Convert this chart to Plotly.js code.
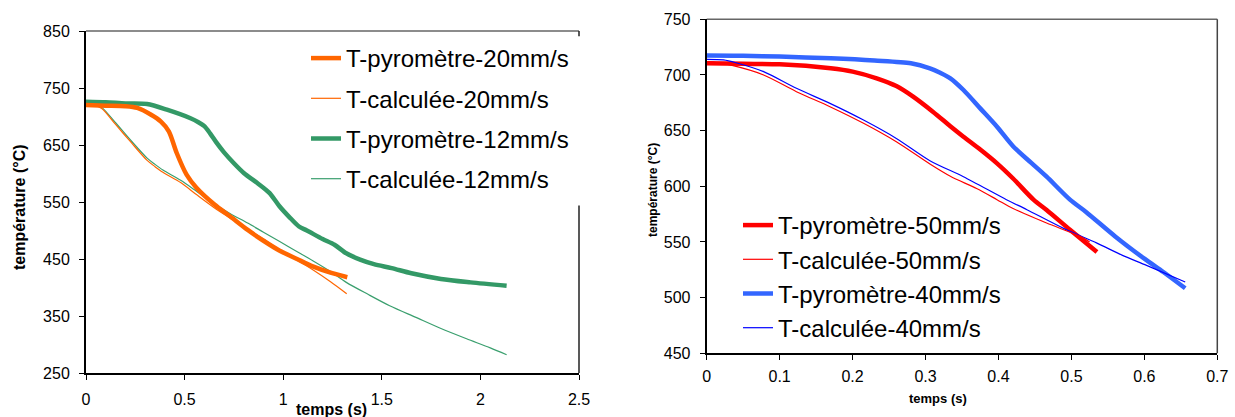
<!DOCTYPE html>
<html>
<head>
<meta charset="utf-8">
<script src="https://cdn.plot.ly/plotly-3.0.1.min.js"></script>
<style>html,body{margin:0;padding:0;background:#fff;}#chart{width:1235px;height:417px;}</style>
</head>
<body>
<div id="chart"></div>
<script>
// ---------- Left chart data ----------
const namePyro20 = "T-pyromètre-20mm/s";
const nameCalc20 = "T-calculée-20mm/s";
const namePyro12 = "T-pyromètre-12mm/s";
const nameCalc12 = "T-calculée-12mm/s";

const tPyro20 = [0, 0.1, 0.2, 0.26, 0.33, 0.38, 0.42, 0.46, 0.51, 0.56, 0.65, 0.73, 0.82, 0.9, 0.98, 1.07, 1.15, 1.24, 1.325];
const TPyro20 = [720, 719, 718, 715, 703, 691, 674, 636, 598, 575, 546, 525, 501, 482, 465, 450, 437, 426, 418];

const tCalc20 = [0, 0.04, 0.08, 0.15, 0.23, 0.31, 0.35, 0.39, 0.48, 0.56, 0.65, 0.73, 0.82, 0.9, 0.98, 1.06, 1.15, 1.24, 1.322];
const TCalc20 = [722, 720, 714, 686, 654, 623, 612, 602, 584, 563, 540, 522, 503, 485, 467, 450, 431, 410, 389];

const tPyro12 = [0, 0.1, 0.2, 0.31, 0.41, 0.53, 0.57, 0.6, 0.63, 0.66, 0.7, 0.75, 0.8, 0.87, 0.93, 0.98, 1.03, 1.08, 1.12, 1.2, 1.26, 1.32, 1.39, 1.46, 1.55, 1.65, 1.8, 1.95, 2.133];
const TPyro12 = [726, 725, 723, 722, 712, 697, 690, 683, 670, 655, 637, 618, 601, 583, 566, 543, 524, 507, 500, 485, 475, 460, 449, 441, 434, 425, 415, 409, 403];

const tCalc12 = [0, 0.04, 0.08, 0.15, 0.23, 0.31, 0.35, 0.39, 0.48, 0.56, 0.65, 0.73, 0.82, 0.9, 0.98, 1.06, 1.15, 1.24, 1.32, 1.43, 1.54, 1.67, 1.8, 1.93, 2.05, 2.133];
const TCalc12 = [726, 723, 716, 689, 657, 627, 616, 606, 588, 569, 547, 530, 513, 497, 481, 465, 447, 428, 409, 388, 368, 348, 328, 310, 294, 282];

const leftXTicks = [0, 0.5, 1, 1.5, 2, 2.5];
const leftYTicks = [250, 350, 450, 550, 650, 750, 850];

// ---------- Right chart data ----------
const namePyro50 = "T-pyromètre-50mm/s";
const nameCalc50 = "T-calculée-50mm/s";
const namePyro40 = "T-pyromètre-40mm/s";
const nameCalc40 = "T-calculée-40mm/s";

const tPyro50 = [0, 0.05, 0.1, 0.17, 0.2, 0.233, 0.26, 0.283, 0.31, 0.334, 0.352, 0.375, 0.398, 0.42, 0.448, 0.466, 0.498, 0.535];
const TPyro50 = [710.5, 710, 709.6, 706, 703, 697, 690, 680.5, 667, 654, 644.6, 633, 620.6, 607, 588, 578.7, 561, 541];

const tCalc50 = [0, 0.015, 0.032, 0.078, 0.123, 0.169, 0.215, 0.26, 0.306, 0.334, 0.37, 0.398, 0.42, 0.466, 0.512, 0.525];
const TCalc50 = [712, 711, 709, 700, 685, 671.5, 656.6, 640, 620, 609, 598, 588, 580, 567, 555, 550];

const tPyro40 = [0, 0.05, 0.1, 0.17, 0.23, 0.28, 0.306, 0.32, 0.334, 0.352, 0.375, 0.398, 0.42, 0.445, 0.466, 0.498, 0.52, 0.56, 0.6, 0.626, 0.656];
const TPyro40 = [717.5, 717.3, 716.5, 715, 713, 710.5, 706, 702, 697, 686.5, 670, 653.5, 636, 621, 608.6, 588, 577, 555, 535, 523, 508.4];

const tCalc40 = [0, 0.023, 0.04, 0.078, 0.123, 0.169, 0.215, 0.26, 0.306, 0.352, 0.411, 0.439, 0.49, 0.535, 0.57, 0.603, 0.656];
const TCalc40 = [714, 713.5, 711, 703, 688, 674.5, 659.5, 643, 623, 608.6, 588, 579, 562, 549, 538, 529, 514];

const rightXTicks = [0, 0.1, 0.2, 0.3, 0.4, 0.5, 0.6, 0.7];
const rightYTicks = [450, 500, 550, 600, 650, 700, 750];

const FONT = "Liberation Sans, Arial, sans-serif";

function line(x, y, name, color, width, xa, ya, lg, rank) {
  return {x: x, y: y, name: name, type: "scatter", mode: "lines",
    line: {color: color, width: width, shape: "spline", smoothing: 0.8},
    xaxis: xa, yaxis: ya, legend: lg, legendgroup: lg + rank, legendrank: rank, showlegend: true};
}

const traces = [
  line(tCalc12, TCalc12, nameCalc12, "#3a9f6e", 1.2, "x", "y", "legend", 4),
  line(tCalc20, TCalc20, nameCalc20, "#ff6600", 1.2, "x", "y", "legend", 2),
  line(tPyro12, TPyro12, namePyro12, "#339966", 4.5, "x", "y", "legend", 3),
  line(tPyro20, TPyro20, namePyro20, "#ff6600", 4.5, "x", "y", "legend", 1),
  line(tPyro40, TPyro40, namePyro40, "#3366ff", 4.5, "x2", "y2", "legend2", 3),
  line(tPyro50, TPyro50, namePyro50, "#ff0000", 4.5, "x2", "y2", "legend2", 1),
  line(tCalc40, TCalc40, nameCalc40, "#0000ff", 1.2, "x2", "y2", "legend2", 4),
  line(tCalc50, TCalc50, nameCalc50, "#ff0000", 1.2, "x2", "y2", "legend2", 2)
];

function axis(domain, range, ticks, anchor, standoff) {
  return {domain: domain, range: range, tickvals: ticks, ticktext: ticks.map(String),
    anchor: anchor, showgrid: false, zeroline: false, showline: true,
    linecolor: "#000", linewidth: 2, ticks: "outside", ticklen: 5, tickwidth: 1,
    tickcolor: "#000", ticklabelstandoff: standoff,
    tickfont: {family: FONT, size: 16, color: "#000"}, fixedrange: true};
}

const W = 1235, H = 417;
const layout = {
  width: W, height: H,
  margin: {l: 0, r: 0, t: 0, b: 0},
  paper_bgcolor: "#fff", plot_bgcolor: "rgba(0,0,0,0)",
  font: {family: FONT, color: "#000"},
  showlegend: true,
  xaxis: axis([86 / W, 579 / W], [0, 2.5], leftXTicks, "y", 6),
  yaxis: axis([(H - 373) / H, (H - 31) / H], [250, 850], leftYTicks, "x", 6),
  xaxis2: axis([706.7 / W, 1217.3 / W], [0, 0.7], rightXTicks, "y2", 2),
  yaxis2: axis([(H - 353.3) / H, (H - 19.3) / H], [450, 750], rightYTicks, "x2", 6),
  legend: {x: 306 / W, y: (H - 36) / H, xanchor: "left", yanchor: "top",
    bgcolor: "#fff", borderwidth: 0, traceorder: "grouped", tracegroupgap: 6,
    font: {family: FONT, size: 24, color: "#000"}},
  legend2: {x: 738 / W, y: (H - 203) / H, xanchor: "left", yanchor: "top",
    bgcolor: "rgba(0,0,0,0)", borderwidth: 0, traceorder: "grouped", tracegroupgap: 0,
    font: {family: FONT, size: 24, color: "#000"}},
  shapes: [
    {type: "line", xref: "x domain", yref: "y domain", x0: 0, x1: 1, y0: 1, y1: 1, line: {color: "#666", width: 1.5}, layer: "below"},
    {type: "line", xref: "x domain", yref: "y domain", x0: 1, x1: 1, y0: 0, y1: 0.49, line: {color: "#222", width: 1.5}, layer: "below"},
    {type: "line", xref: "x domain", yref: "y domain", x0: 1, x1: 1, y0: 0.985, y1: 1, line: {color: "#222", width: 1.5}, layer: "below"},
    {type: "line", xref: "x2 domain", yref: "y2 domain", x0: 0, x1: 1, y0: 1, y1: 1, line: {color: "#666", width: 1.5}, layer: "below"},
    {type: "line", xref: "x2 domain", yref: "y2 domain", x0: 1, x1: 1, y0: 0, y1: 1, line: {color: "#444", width: 1.5}, layer: "below"}
  ],
  annotations: [
    {text: "<b>temps (s)</b>", xref: "paper", yref: "paper", x: 331 / W, y: (H - 409) / H,
      xanchor: "center", yanchor: "middle", showarrow: false, font: {family: FONT, size: 16, color: "#000"}},
    {text: "<b>température (°C)</b>", xref: "paper", yref: "paper", x: 19 / W, y: (H - 207) / H,
      xanchor: "center", yanchor: "middle", textangle: -90, showarrow: false, font: {family: FONT, size: 16, color: "#000"}},
    {text: "<b>temps (s)</b>", xref: "paper", yref: "paper", x: 938 / W, y: (H - 398) / H,
      xanchor: "center", yanchor: "middle", showarrow: false, font: {family: FONT, size: 13, color: "#000"}},
    {text: "<b>température (°C)</b>", xref: "paper", yref: "paper", x: 653 / W, y: (H - 190) / H,
      xanchor: "center", yanchor: "middle", textangle: -90, showarrow: false, font: {family: FONT, size: 12, color: "#000"}}
  ]
};

Plotly.newPlot("chart", traces, layout, {staticPlot: true, displayModeBar: false});
</script>
</body>
</html>
